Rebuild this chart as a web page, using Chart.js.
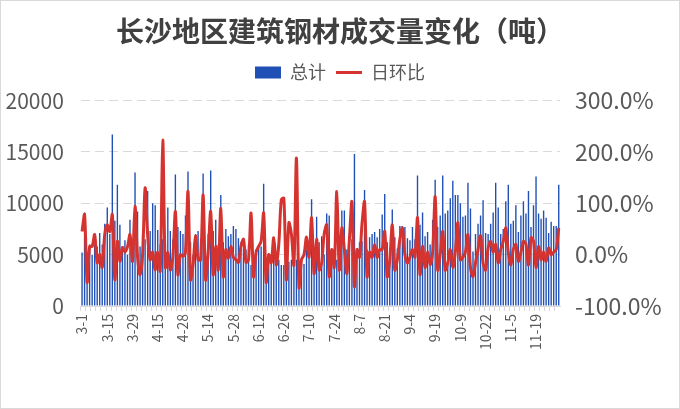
<!DOCTYPE html>
<html lang="zh">
<head>
    <meta charset="UTF-8">
    <title>长沙地区建筑钢材成交量变化</title>
    <script src="https://cdn.jsdelivr.net/npm/chart.js"></script>
    <style>
        body {
            margin: 0;
            background-color: #fff;
        }
        #volChart {
            display: block;
        }
    </style>
</head>
<body>
    <canvas id="volChart" width="680" height="409"></canvas>

    <script>
        const dates = [
            '3-1','3-2','3-3','3-6','3-7','3-8','3-9','3-10','3-13','3-14',
            '3-15','3-16','3-17','3-20','3-21','3-22','3-23','3-24','3-27','3-28',
            '3-29','3-30','3-31','4-3','4-4','4-6','4-7','4-10','4-11','4-13',
            '4-15','4-17','4-18','4-19','4-20','4-21','4-23','4-24','4-25','4-26',
            '4-28','5-4','5-5','5-6','5-8','5-9','5-10','5-11','5-12','5-13',
            '5-14','5-15','5-16','5-17','5-18','5-19','5-22','5-23','5-24','5-25',
            '5-28','5-29','5-30','5-31','6-1','6-2','6-5','6-6','6-7','6-9',
            '6-12','6-13','6-14','6-15','6-16','6-19','6-20','6-21','6-23','6-25',
            '6-26','6-27','6-28','6-29','6-30','7-3','7-4','7-5','7-6','7-7',
            '7-10','7-11','7-12','7-13','7-14','7-17','7-18','7-19','7-20','7-21',
            '7-24','7-25','7-26','7-27','7-28','7-31','8-1','8-2','8-3','8-4',
            '8-7','8-8','8-9','8-10','8-11','8-14','8-15','8-16','8-17','8-18',
            '8-21','8-22','8-23','8-24','8-25','8-28','8-29','8-30','8-31','9-1',
            '9-4','9-5','9-6','9-7','9-8','9-11','9-12','9-13','9-14','9-15',
            '9-19','9-20','9-21','9-22','9-25','9-26','9-27','9-28','10-7','10-8',
            '10-9','10-10','10-11','10-12','10-13','10-16','10-17','10-18','10-19','10-20',
            '10-22','10-23','10-24','10-25','10-26','10-27','10-30','10-31','11-1','11-2',
            '11-5','11-6','11-7','11-8','11-9','11-10','11-13','11-14','11-15','11-16',
            '11-19','11-20','11-21','11-22','11-23','11-24','11-27','11-28','11-29','11-30'
        ];

        // 总计 (吨)
        const totals = [
            5200, 9100, 3000, 6000, 5000, 7000, 5800, 7100, 6000, 8000, 9600, 7000, 16700, 8300, 11800,
            7900, 5500, 6400, 5000, 8400, 6000, 13000, 9200, 5800, 7000, 6500, 11200, 7300, 10000, 9800, 7400, 6000,
            6500, 4500, 9600, 7300, 6500, 12800, 7700, 7300, 7000, 8800, 13100, 6200, 5000, 7000, 7300,
            6500, 12900, 4500, 7000, 13200, 7300, 8400, 6000, 10800, 6200, 7500, 6800, 7000, 7800, 7500, 6600, 6200,
            5600, 5500, 6000, 4000, 5000, 5500, 5700, 5800, 11900, 4500, 4800, 5000, 5100, 4000, 4500, 4000,
            4000, 3500, 4300, 4500, 3900, 4500, 3000, 4200, 4100, 5500, 5600, 10400, 5500, 8700, 6200, 6800, 5000,
            9000, 8800, 5500, 5000, 4500, 5200, 9300, 9300, 5500, 6000, 6500, 14800, 5500, 6200, 6300, 11300,
            5500, 6700, 7000, 7200, 6700, 7500, 8900, 10900, 6200, 5000, 9400, 6700, 5600, 7800, 7800,
            7700, 6600, 6400, 7700, 6500, 12700, 7900, 9100, 6800, 7200, 6000, 8400, 12300, 7700, 8800, 12700, 9000,
            9300, 10500, 12200, 10800, 10800, 10000, 8700, 8800, 12000, 9500, 5300, 7000, 8000, 8800, 10300, 7100,
            7000, 8000, 9100, 12000, 9600, 7000, 7500, 10200, 11800, 8000, 8300, 9800, 7200, 8800, 10200, 9000, 11200,
            7700, 9800, 12600, 9000, 8500, 9300, 8600, 7100, 8200, 7800, 7800, 11800
        ];

        // 日环比 (%)
        const dayOnDay = [
            45, 78, -54, 16, 16, 39, -16, 0, -25, 40, 58, 45, 78, -49, 26,
            -13, 14, 5, 15, 39, -13, 94, -5, -39, 0, 130, 39, -10, 5, -30, 5, -32,
            223, -25, 4, -30, -5, 84, -39, 0, -3, 5, 123, -49, -20, 36, -10,
            -10, 116, -49, 4, 84, -39, 16, -30, 90, -43, 10, -7, 16, -5, -10, -15, 16,
            30, -15, -10, 81, -43, 5, 16, 26, 81, -54, 0, -16, 33, -20, 20, 107,
            110, -49, 62, 40, -20, 188, -64, -10, 0, 34, -5, 72, -37, 30, -30, -16, 40,
            58, -43, 10, -25, 123, -30, 52, 10, -37, 30, 103, -62, 10, -5, 60, 103,
            -43, 5, -5, 20, -5, 10, 10, 45, -43, -10, 58, -30, -10, 30, 52,
            0, -16, -5, 10, -5, 72, -39, 16, -25, 5, -20, 5, 113, -30, 0, 45, -30,
            -16, 10, -25, 5, 62, -10, -5, 5, 39, -25, -43, -16, 10, 37, -16, -30,
            13, 26, 5, 20, -16, 10, 26, 52, 5, -20, 10, 20, -13, 5, 26, 20, -20,
            33, 26, -25, 16, -10, 5, -13, 13, 0, 5, 10, 52
        ];

        const leftTicks = [0, 5000, 10000, 15000, 20000];
        const rightTicks = [-100, 0, 100, 200, 300];

        const barColor = '#2050B5';
        const lineColor = '#D5332F';
        const textColor = '#595959';
        const gridColor = '#D9D9D9';
        const fontFamily = '"Noto Sans CJK SC", "Noto Sans", sans-serif';

        // white background + light frame like the office chart area
        const frame = {
            id: 'frame',
            beforeInit(chart) {
                // leave a gap under the legend
                const fit = chart.legend.fit;
                chart.legend.fit = function () {
                    fit.call(this);
                    this.height += 9;
                };
            },
            beforeDraw(chart) {
                const c = chart.ctx;
                c.save();
                c.fillStyle = '#fff';
                c.fillRect(0, 0, chart.width, chart.height);
                c.strokeStyle = gridColor;
                c.lineWidth = 1;
                c.strokeRect(0.5, 0.5, chart.width - 1, chart.height - 1);
                c.restore();
            }
        };

        const ctx = document.getElementById('volChart').getContext('2d');
        const volChart = new Chart(ctx, {
            type: 'bar',
            data: {
                labels: dates,
                datasets: [{
                    type: 'line',
                    label: '日环比',
                    data: dayOnDay,
                    yAxisID: 'y1',
                    borderColor: lineColor,
                    backgroundColor: lineColor,
                    borderWidth: 3,
                    pointRadius: 0,
                    tension: 0.3,
                    order: 0
                }, {
                    label: '总计',
                    data: totals,
                    yAxisID: 'y',
                    backgroundColor: barColor,
                    barPercentage: 0.55,
                    categoryPercentage: 1.0,
                    order: 1
                }]
            },
            options: {
                responsive: false,
                animation: false,
                layout: { padding: 0 },
                plugins: {
                    title: {
                        display: true,
                        text: '长沙地区建筑钢材成交量变化（吨）',
                        color: '#404040',
                        font: { family: fontFamily, size: 28, weight: 'bold', lineHeight: 1.2 },
                        padding: { top: 15, bottom: 5 }
                    },
                    legend: {
                        display: true,
                        labels: {
                            color: textColor,
                            font: { family: fontFamily, size: 18 },
                            usePointStyle: true,
                            pointStyleWidth: 26,
                            boxHeight: 12,
                            padding: 10,
                            generateLabels() {
                                return [{
                                    text: '总计',
                                    fillStyle: barColor,
                                    strokeStyle: barColor,
                                    lineWidth: 0,
                                    pointStyle: 'rect',
                                    fontColor: textColor,
                                    datasetIndex: 1
                                }, {
                                    text: '日环比',
                                    fillStyle: lineColor,
                                    strokeStyle: lineColor,
                                    lineWidth: 3,
                                    pointStyle: 'line',
                                    fontColor: textColor,
                                    datasetIndex: 0
                                }];
                            }
                        }
                    },
                    tooltip: { enabled: false }
                },
                scales: {
                    x: {
                        grid: {
                            offset: true,
                            drawOnChartArea: false,
                            tickLength: 5,
                            color: c => (c.index % 2 === 0 ? gridColor : 'rgba(0,0,0,0)')
                        },
                        border: { color: gridColor },
                        ticks: {
                            autoSkip: false,
                            minRotation: 90,
                            maxRotation: 90,
                            padding: 3,
                            color: textColor,
                            font: { family: fontFamily, size: 14 },
                            callback: function (val, i) {
                                return i % 10 === 0 ? dates[i] : '';
                            }
                        },
                        afterFit(scale) { scale.height = 103; }
                    },
                    y: {
                        position: 'left',
                        min: 0,
                        max: 20000,
                        afterBuildTicks(scale) {
                            scale.ticks = leftTicks.map(v => ({ value: v }));
                        },
                        grid: {
                            color: gridColor,
                            drawTicks: false,
                            borderDash: [9, 5]
                        },
                        border: { display: false, dash: [9, 5] },
                        ticks: {
                            padding: 17,
                            color: textColor,
                            font: { family: fontFamily, size: 21 },
                            callback: v => String(v)
                        },
                        afterFit(scale) { scale.width = 80.8; }
                    },
                    y1: {
                        position: 'right',
                        min: -100,
                        max: 300,
                        afterBuildTicks(scale) {
                            scale.ticks = rightTicks.map(v => ({ value: v }));
                        },
                        grid: { display: false, drawTicks: false },
                        border: { display: false },
                        ticks: {
                            padding: 15,
                            color: textColor,
                            font: { family: fontFamily, size: 23 },
                            callback: v => v.toFixed(1) + '%'
                        },
                        afterFit(scale) { scale.width = 120; }
                    }
                }
            },
            plugins: [frame]
        });
    </script>
</body>
</html>
